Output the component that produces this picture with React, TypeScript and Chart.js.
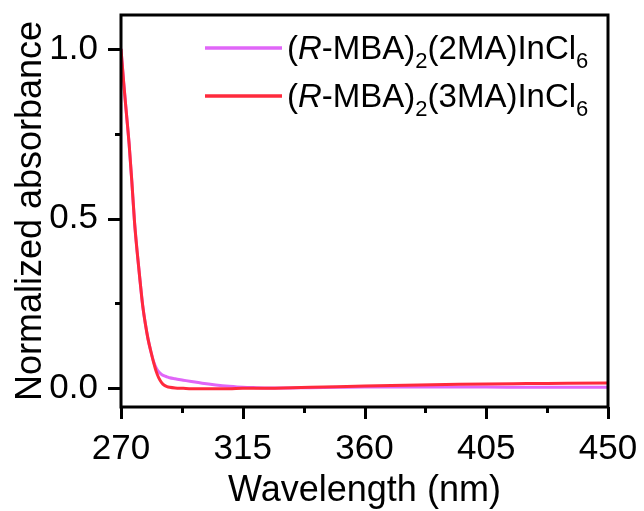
import React, { useEffect, useRef } from "react";
import { Chart, registerables } from "chart.js";

Chart.register(...registerables);

const wavelengths2MA = [270, 271, 272, 273, 274, 275, 276, 277, 278, 279, 280, 281, 282, 283, 284, 285, 286, 287, 288, 290, 293, 296, 300, 305, 310, 315, 320, 330, 340, 350, 360, 375, 390, 405, 420, 435, 450];
const absorb2MA = [1.0, 0.9, 0.81, 0.72, 0.61, 0.49, 0.4, 0.32, 0.245, 0.19, 0.145, 0.11, 0.08, 0.06, 0.048, 0.041, 0.037, 0.034, 0.031, 0.028, 0.024, 0.02, 0.015, 0.01, 0.006, 0.003, 0.002, 0.001, 0.002, 0.003, 0.004, 0.004, 0.004, 0.004, 0.003, 0.003, 0.003];

const wavelengths3MA = [270, 271, 272, 273, 274, 275, 276, 277, 278, 279, 280, 281, 282, 283, 284, 285, 286, 287, 288, 290, 293, 296, 300, 305, 310, 315, 320, 330, 340, 350, 360, 375, 390, 405, 420, 435, 450];
const absorb3MA = [1.0, 0.9, 0.81, 0.72, 0.61, 0.49, 0.4, 0.32, 0.245, 0.19, 0.145, 0.11, 0.078, 0.05, 0.03, 0.017, 0.009, 0.005, 0.003, 0.001, 0.0, -0.001, -0.001, -0.001, -0.001, 0.0, 0.0, 0.001, 0.003, 0.005, 0.007, 0.009, 0.011, 0.013, 0.014, 0.015, 0.016];

const xMajorTicks = [270, 315, 360, 405, 450];
const xMinorTicks = [292.5, 337.5, 382.5, 427.5];
const yMajorTicks = [0, 0.5, 1.0];
const yMinorTicks = [0.25, 0.75];

const seriesNames = ["2MA", "3MA"];
const seriesColors = ["#E066F8", "#FF2A3C"];

const FONT = "'Liberation Sans', Arial, sans-serif";

const framePlugin = {
  id: "frameAndMinor",
  afterDraw(chart: any) {
    const { ctx, chartArea } = chart;
    const xs = chart.scales.x;
    const ys = chart.scales.y;
    ctx.save();
    ctx.strokeStyle = "#000";
    ctx.lineWidth = 3;
    ctx.strokeRect(chartArea.left, chartArea.top, chartArea.right - chartArea.left, chartArea.bottom - chartArea.top);
    ctx.beginPath();
    for (const v of xMinorTicks) {
      const px = Math.round(xs.getPixelForValue(v)) + 0.5;
      ctx.moveTo(px, chartArea.bottom);
      ctx.lineTo(px, chartArea.bottom + 6);
    }
    for (const v of xMajorTicks) {
      const px = Math.round(xs.getPixelForValue(v)) + 0.5;
      ctx.moveTo(px, chartArea.bottom);
      ctx.lineTo(px, chartArea.bottom + 12);
    }
    for (const v of yMinorTicks) {
      const py = Math.round(ys.getPixelForValue(v)) + 0.5;
      ctx.moveTo(chartArea.left, py);
      ctx.lineTo(chartArea.left - 6, py);
    }
    for (const v of yMajorTicks) {
      const py = Math.round(ys.getPixelForValue(v)) + 0.5;
      ctx.moveTo(chartArea.left, py);
      ctx.lineTo(chartArea.left - 13, py);
    }
    ctx.stroke();

    // legend
    const lineX0 = 205;
    const lineX1 = 282;
    const textX = 287;
    const rows = [48, 96];
    for (let i = 0; i < seriesNames.length; i++) {
      const y = rows[i];
      ctx.strokeStyle = seriesColors[i];
      ctx.lineWidth = 3.5;
      ctx.beginPath();
      ctx.moveTo(lineX0, y);
      ctx.lineTo(lineX1, y);
      ctx.stroke();
      const base = y + 11;
      let x = textX;
      ctx.fillStyle = "#000";
      ctx.textBaseline = "alphabetic";
      ctx.textAlign = "left";
      const parts: [string, string][] = [
        ["(", "normal"],
        ["R", "italic"],
        ["-MBA)", "normal"],
        ["2", "sub"],
        ["(" + seriesNames[i] + ")InCl", "normal"],
        ["6", "sub"],
      ];
      for (const [t, style] of parts) {
        if (style === "sub") {
          ctx.font = `22px ${FONT}`;
          ctx.fillText(t, x, base + 9);
        } else {
          ctx.font = `${style === "italic" ? "italic " : ""}33px ${FONT}`;
          ctx.fillText(t, x, base);
        }
        x += ctx.measureText(t).width;
      }
    }
    ctx.restore();
  },
};

export default function App() {
  const ref = useRef<HTMLCanvasElement>(null);
  useEffect(() => {
    if (!ref.current) return;
    const chart = new Chart(ref.current, {
      type: "line",
      data: {
        datasets: [
          {
            label: "(R-MBA)2(2MA)InCl6",
            data: wavelengths2MA.map((w, i) => ({ x: w, y: absorb2MA[i] })),
            borderColor: seriesColors[0],
            borderWidth: 3,
            pointRadius: 0,
            cubicInterpolationMode: "monotone",
            order: 1,
          },
          {
            label: "(R-MBA)2(3MA)InCl6",
            data: wavelengths3MA.map((w, i) => ({ x: w, y: absorb3MA[i] })),
            borderColor: seriesColors[1],
            borderWidth: 3,
            pointRadius: 0,
            cubicInterpolationMode: "monotone",
            order: 0,
          },
        ],
      },
      options: {
        animation: false,
        responsive: false,
        maintainAspectRatio: false,
        layout: { padding: { top: 15, right: 36, left: 0, bottom: 0 } },
        plugins: { legend: { display: false }, tooltip: { enabled: false } },
        scales: {
          x: {
            type: "linear",
            min: 270,
            max: 450,
            afterBuildTicks: (s: any) => {
              s.ticks = xMajorTicks.map((v) => ({ value: v }));
            },
            afterFit: (s: any) => {
              s.height = 104;
              s.paddingLeft = 0;
              s.paddingRight = 0;
            },
            border: { display: false },
            grid: { drawOnChartArea: false, drawTicks: true, tickLength: 12, tickColor: "rgba(0,0,0,0)" },
            ticks: {
              color: "#000",
              font: { family: FONT, size: 35 },
              padding: 9,
              maxRotation: 0,
              autoSkip: false,
              callback: (v: any) => String(v),
            },
            title: {
              display: true,
              text: "Wavelength (nm)",
              color: "#000",
              font: { family: FONT, size: 36 },
              padding: { top: 0, bottom: -2 },
            },
          },
          y: {
            type: "linear",
            min: -0.055,
            max: 1.1,
            afterBuildTicks: (s: any) => {
              s.ticks = yMajorTicks.map((v) => ({ value: v }));
            },
            afterFit: (s: any) => {
              s.width = 121;
              s.paddingTop = 0;
              s.paddingBottom = 0;
            },
            border: { display: false },
            grid: { drawOnChartArea: false, drawTicks: true, tickLength: 13, tickColor: "rgba(0,0,0,0)" },
            ticks: {
              color: "#000",
              font: { family: FONT, size: 35 },
              padding: 10,
              autoSkip: false,
              callback: (v: any) => Number(v).toFixed(1),
            },
            title: {
              display: true,
              text: "Normalized absorbance",
              color: "#000",
              font: { family: FONT, size: 36 },
              padding: { top: 9, bottom: 0 },
            },
          },
        },
      },
      plugins: [framePlugin],
    });
    return () => chart.destroy();
  }, []);
  return (
    <div style={{ position: "absolute", left: 0, top: 0, width: 644, height: 511, background: "#fff" }}>
      <canvas ref={ref} width={644} height={511} style={{ width: 644, height: 511 }} />
    </div>
  );
}
